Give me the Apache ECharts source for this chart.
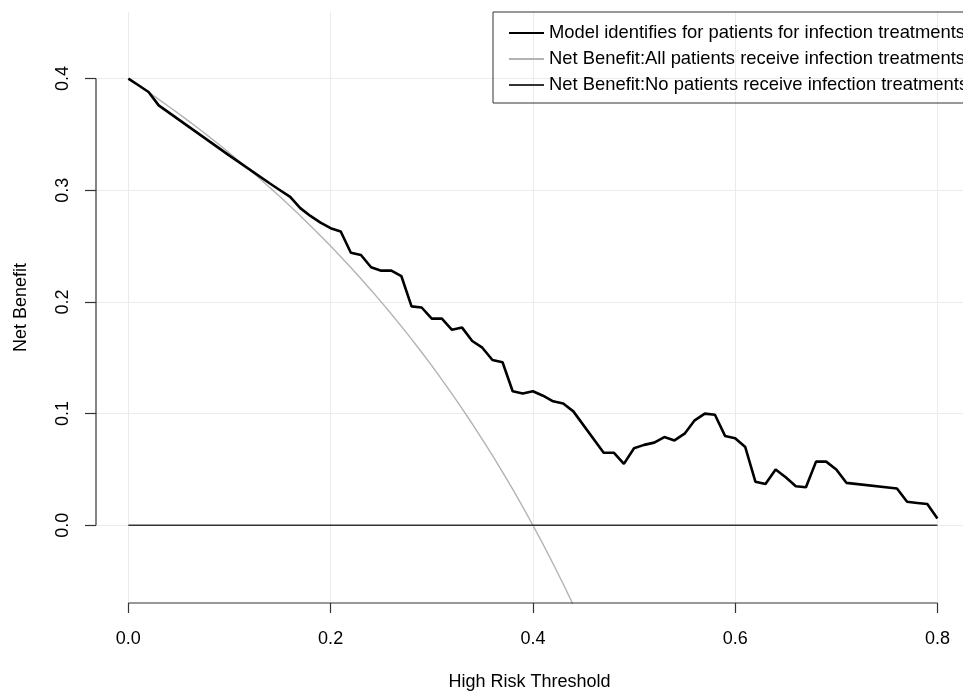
<!DOCTYPE html>
<html>
<head>
<meta charset="utf-8">
<title>Decision curve</title>
<script src="https://cdn.jsdelivr.net/npm/echarts@6/dist/echarts.min.js"></script>
<style>
    html, body { margin: 0; padding: 0; background: #fff; }
    #chart { width: 963px; height: 691px; }
</style>
</head>
<body>
<div id="chart"></div>
<script>
// thresholds and net benefit of the model
var modelThreshold = [0.00, 0.01, 0.02, 0.03, 0.10, 0.14, 0.15, 0.16, 0.17, 0.18, 0.19, 0.20,
    0.21, 0.22, 0.23, 0.24, 0.25, 0.26, 0.27, 0.28, 0.29, 0.30, 0.31, 0.32, 0.33, 0.34, 0.35,
    0.36, 0.37, 0.38, 0.39, 0.40, 0.41, 0.42, 0.43, 0.44, 0.47, 0.48, 0.49, 0.50, 0.51, 0.52,
    0.53, 0.54, 0.55, 0.56, 0.57, 0.58, 0.59, 0.60, 0.61, 0.62, 0.63, 0.64, 0.65, 0.66, 0.67,
    0.68, 0.69, 0.70, 0.71, 0.76, 0.77, 0.78, 0.79, 0.80];
var modelBenefit = [0.400, 0.394, 0.388, 0.376, 0.331, 0.306, 0.300, 0.294, 0.284, 0.277, 0.271, 0.266,
    0.263, 0.244, 0.242, 0.231, 0.228, 0.228, 0.223, 0.196, 0.195, 0.185, 0.185, 0.175, 0.177, 0.165, 0.159,
    0.148, 0.146, 0.120, 0.118, 0.120, 0.116, 0.111, 0.109, 0.102, 0.065, 0.065, 0.055, 0.069, 0.072, 0.074,
    0.079, 0.076, 0.082, 0.094, 0.100, 0.099, 0.080, 0.078, 0.070, 0.039, 0.037, 0.050, 0.043, 0.035, 0.034,
    0.057, 0.057, 0.050, 0.038, 0.033, 0.021, 0.020, 0.019, 0.006];

// treat-all curve
var allThreshold = [0.00, 0.01, 0.02, 0.03, 0.04, 0.05, 0.06, 0.07, 0.08, 0.09, 0.10, 0.11, 0.12,
    0.13, 0.14, 0.15, 0.16, 0.17, 0.18, 0.19, 0.20, 0.21, 0.22, 0.23, 0.24, 0.25, 0.26, 0.27, 0.28,
    0.29, 0.30, 0.31, 0.32, 0.33, 0.34, 0.35, 0.36, 0.37, 0.38, 0.39, 0.40, 0.41, 0.42, 0.43, 0.44, 0.45];
var allBenefit = [0.4000, 0.3939, 0.3878, 0.3814, 0.3750, 0.3684, 0.3617, 0.3548, 0.3478, 0.3407, 0.3333,
    0.3258, 0.3182, 0.3103, 0.3023, 0.2941, 0.2857, 0.2771, 0.2683, 0.2593, 0.2500, 0.2405, 0.2308, 0.2208,
    0.2105, 0.2000, 0.1892, 0.1781, 0.1667, 0.1549, 0.1429, 0.1304, 0.1176, 0.1045, 0.0909, 0.0769, 0.0625,
    0.0476, 0.0323, 0.0164, 0.0000, -0.0169, -0.0345, -0.0526, -0.0714, -0.0909];

// treat-none line
var noneThreshold = [0.00, 0.80];
var noneBenefit = [0, 0];

var xTicks = [0, 0.2, 0.4, 0.6, 0.8];
var yTicks = [0, 0.1, 0.2, 0.3, 0.4];

// plot region of the original runs past the right edge, so x max is where the page ends
var X_MIN = -0.032, X_MAX = 0.8253;
var Y_MIN = -0.0696, Y_MAX = 0.4596;

var names = ['Model identifies for patients for infection treatments',
    'Net Benefit:All patients receive infection treatments',
    'Net Benefit:No patients receive infection treatments'];

function pairs(xs, ys) {
    return xs.map(function (x, i) { return [x, ys[i]]; });
}

var FONT = '"Liberation Sans", Arial, Helvetica, sans-serif';

var mchart = echarts.init(document.getElementById('chart'));
var option = {
    backgroundColor: '#fff',
    animation: false,
    textStyle: { fontFamily: FONT },
    grid: { left: 96, right: 0, top: 12, bottom: 88, containLabel: false, outerBoundsMode: 'none' },
    legend: {
        data: names,
        orient: 'vertical',
        left: 493,
        top: 12,
        selectedMode: false,
        borderColor: '#333',
        borderWidth: 1,
        padding: [12, 12, 9, 15],
        itemGap: 8,
        itemWidth: 35,
        itemHeight: 14,
        itemStyle: { opacity: 0 },     // hide the round symbol, keep the line
        textStyle: { color: '#000', fontSize: 18.4, fontFamily: FONT }
    },
    xAxis: {
        type: 'value',
        min: X_MIN,
        max: X_MAX,
        name: 'High Risk Threshold',
        nameLocation: 'middle',
        nameGap: 70,
        nameTextStyle: { color: '#000', fontSize: 18, fontFamily: FONT },
        axisLine: { show: false, onZero: false },
        axisTick: { show: true, length: 10, customValues: xTicks, lineStyle: { color: '#333', width: 1.2 } },
        axisLabel: { customValues: xTicks, margin: 27, color: '#000', fontSize: 18, fontFamily: FONT,
            formatter: function (v) { return v.toFixed(1); } },
        splitLine: { show: true, lineStyle: { color: '#ebebeb', width: 1 } }
    },
    yAxis: {
        type: 'value',
        min: Y_MIN,
        max: Y_MAX,
        name: 'Net Benefit',
        nameLocation: 'middle',
        nameGap: 66,
        nameRotate: 90,
        nameTextStyle: { color: '#000', fontSize: 18, fontFamily: FONT },
        axisLine: { show: false, onZero: false },
        axisTick: { show: true, length: 11, customValues: yTicks, lineStyle: { color: '#333', width: 1.2 } },
        axisLabel: { customValues: yTicks, margin: 24, rotate: 90, color: '#000', fontSize: 18, fontFamily: FONT,
            formatter: function (v) { return v.toFixed(1); } },
        splitLine: { show: true, lineStyle: { color: '#ebebeb', width: 1 } }
    },
    series: [
        {
            name: names[1],
            type: 'line',
            data: pairs(allThreshold, allBenefit),
            symbol: 'none',
            clip: true,
            lineStyle: { color: '#b3b3b3', width: 1.4 },
            itemStyle: { color: '#b3b3b3' },
            z: 3
        },
        {
            name: names[2],
            type: 'line',
            data: pairs(noneThreshold, noneBenefit),
            symbol: 'none',
            lineStyle: { color: '#333', width: 1.3 },
            itemStyle: { color: '#333' },
            z: 3
        },
        {
            name: names[0],
            type: 'line',
            data: pairs(modelThreshold, modelBenefit),
            symbol: 'none',
            lineStyle: { color: '#000', width: 2.6 },
            itemStyle: { color: '#000' },
            z: 4
        },
        {   // R style x axis line, only between first and last tick
            name: 'xaxisline',
            type: 'line',
            data: [[xTicks[0], Y_MIN], [xTicks[xTicks.length - 1], Y_MIN]],
            symbol: 'none',
            clip: false,
            silent: true,
            lineStyle: { color: '#333', width: 1.2 },
            z: 5
        },
        {   // y axis line
            name: 'yaxisline',
            type: 'line',
            data: [[X_MIN, yTicks[0]], [X_MIN, yTicks[yTicks.length - 1]]],
            symbol: 'none',
            clip: false,
            silent: true,
            lineStyle: { color: '#333', width: 1.2 },
            z: 5
        }
    ]
};
mchart.setOption(option);
</script>
</body>
</html>
